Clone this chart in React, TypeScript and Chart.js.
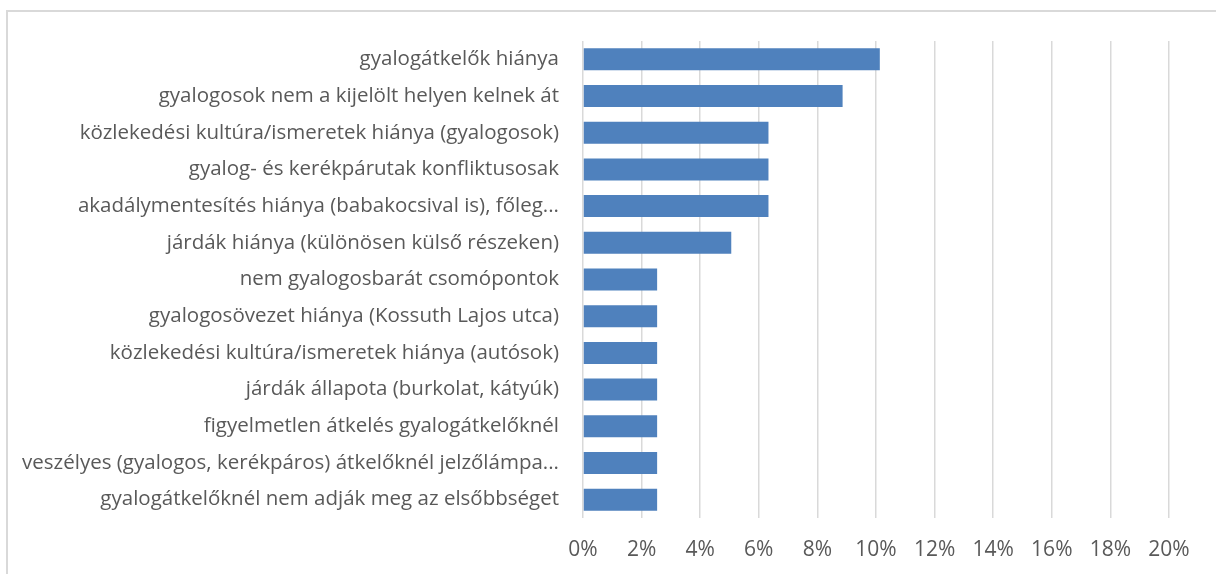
import React, { useEffect, useRef } from "react";
import { Chart, registerables } from "chart.js";

Chart.register(...registerables);

const categories: string[] = [
  "gyalogátkelők hiánya",
  "gyalogosok nem a kijelölt helyen kelnek át",
  "közlekedési kultúra/ismeretek hiánya (gyalogosok)",
  "gyalog- és kerékpárutak konfliktusosak",
  "akadálymentesítés hiánya (babakocsival is), főleg...",
  "járdák hiánya (különösen külső részeken)",
  "nem gyalogosbarát csomópontok",
  "gyalogosövezet hiánya (Kossuth Lajos utca)",
  "közlekedési kultúra/ismeretek hiánya (autósok)",
  "járdák állapota (burkolat, kátyúk)",
  "figyelmetlen átkelés gyalogátkelőknél",
  "veszélyes (gyalogos, kerékpáros) átkelőknél jelzőlámpa...",
  "gyalogátkelőknél nem adják meg az elsőbbséget",
];

const values: number[] = [10.13, 8.86, 6.33, 6.33, 6.33, 5.06, 2.53, 2.53, 2.53, 2.53, 2.53, 2.53, 2.53];

const axisMin = 0;
const axisMax = 20;
const axisStep = 2;

const FONT = "'Open Sans', 'Noto Sans', sans-serif";
const TEXT = "#595959";

export default function App() {
  const ref = useRef<HTMLCanvasElement | null>(null);

  useEffect(() => {
    if (!ref.current) return;
    const chart = new Chart(ref.current, {
      type: "bar",
      data: {
        labels: categories,
        datasets: [
          {
            data: values,
            backgroundColor: "#4f81bd",
            borderWidth: 0,
            barPercentage: 0.6,
            categoryPercentage: 1,
          },
        ],
      },
      options: {
        indexAxis: "y",
        responsive: false,
        animation: false,
        layout: { padding: { top: 41, right: 47, bottom: 0, left: 0 } },
        plugins: {
          legend: { display: false },
          tooltip: { enabled: false },
        },
        scales: {
          x: {
            min: axisMin,
            max: axisMax,
            border: { display: false },
            grid: { color: "#d9d9d9", lineWidth: 1.5, drawTicks: false },
            ticks: {
              stepSize: axisStep,
              padding: 19,
              color: TEXT,
              font: { family: FONT, size: 21 },
              callback: (v: any) => `${v}%`,
            },
            afterFit: (s: any) => {
              s.height = 56;
            },
          },
          y: {
            border: { display: false },
            grid: { display: false, drawTicks: false },
            ticks: {
              padding: 24,
              color: TEXT,
              autoSkip: false,
              font: { family: FONT, size: 20.5 },
            },
            afterFit: (s: any) => {
              s.width = 583;
            },
          },
        },
      },
    });
    return () => chart.destroy();
  }, []);

  return (
    <div style={{ position: "fixed", left: 0, top: 0, width: 1216, height: 574, overflow: "hidden", background: "#fff" }}>
      <div
        style={{
          position: "absolute",
          left: 6,
          top: 10,
          width: 1400,
          height: 800,
          border: "2px solid #d9d9d9",
          pointerEvents: "none",
        }}
      />
      <canvas ref={ref} width={1216} height={574} style={{ position: "absolute", left: 0, top: 0, display: "block" }} />
    </div>
  );
}
